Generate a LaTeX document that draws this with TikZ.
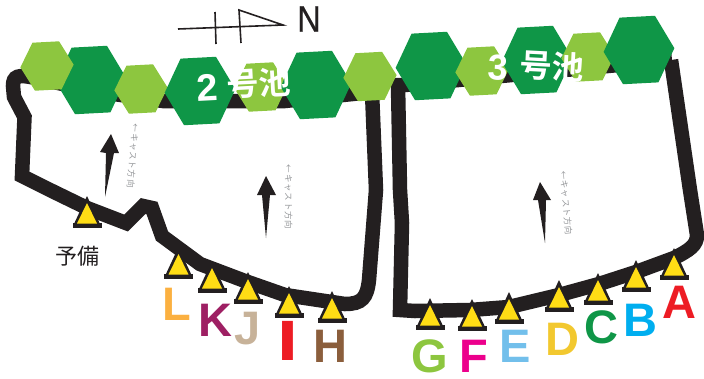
\documentclass[tikz,border=0pt]{standalone}
\usepackage{fontspec}
\setmainfont{Liberation Sans}
\newfontfamily\cjk{Noto Sans CJK JP}
\newfontfamily\cjkb{Noto Sans CJK JP Bold}
\newfontfamily\cjksp[LetterSpace=9]{Noto Sans CJK JP}
\newfontfamily\northfont[FakeBold=0.6]{Liberation Sans}
\usetikzlibrary{shapes.geometric}
\definecolor{trk}{HTML}{231F20}
\definecolor{hdark}{HTML}{0F9647}
\definecolor{hlight}{HTML}{8DC63F}
\definecolor{cone}{HTML}{FFDD15}
\definecolor{notegray}{HTML}{939598}
\tikzset{
  hexdark/.style={regular polygon,regular polygon sides=6,minimum size=77pt,inner sep=0pt,outer sep=0pt,fill=hdark,rotate=3,xscale=.92},
  hexlight/.style={regular polygon,regular polygon sides=6,minimum size=55.5pt,inner sep=0pt,outer sep=0pt,fill=hlight,rotate=3,xscale=.96},
  track/.style={draw=trk,line width=14.5pt,line join=miter,miter limit=10},
  letterlab/.style={inner sep=0pt,font=\fontsize{47}{47}\selectfont\bfseries},
  pondlab/.style={inner sep=0pt,text=white,font=\fontsize{32}{32}\selectfont\cjkb},
  pondnum/.style={inner sep=0pt,text=white,font=\fontsize{38}{38}\selectfont\bfseries},
  dirnote/.style={inner sep=0pt,text=notegray,font=\fontsize{8.5}{9}\selectfont\cjksp},
  dirarrow/.style={fill=trk,draw=none},
  northline/.style={draw=trk,line width=1.6pt},
  cone/.pic={
    \fill[trk] (-14.5,-2.5) rectangle (14.5,2.5);
    \fill[trk] (0,-29) -- (-13.5,0) -- (13.5,0) -- cycle;
    \fill[cone] (0,-22) -- (-10,-1.5) -- (10,-1.5) -- cycle;
  }
}
\begin{document}
\begin{tikzpicture}[x=1pt,y=-1pt]
\useasboundingbox (0,0) rectangle (704,378);
% tracks
\draw[track] (372,92) -- (285,101) -- (163,101) -- (100,92) -- (35,78) .. controls (18,74) and (13,76) .. (13,86) -- (14,97) -- (24.5,117) -- (22,176) -- (50,190) -- (87,208) -- (126,223) -- (143,206) -- (152,208) -- (162,236) -- (200,264) -- (245,281) -- (285,295) -- (345,304) .. controls (362,304) and (367,298) .. (369,280) -- (376,190) -- (372,92);
\draw[track] (672,60) -- (405,85) -- (398,85) -- (400,190) -- (402,223) -- (400,310) -- (415,311) -- (470,310) -- (509,307) -- (559,295) -- (599,284) -- (636,272) -- (674,258) .. controls (690,250) and (697,245) .. (697,235) -- (690,190) -- (671,60);
% hexagons
\node[hexdark] (d1) at (91,80) {};
\node[hexlight] (l1) at (47,66) {};
\node[hexlight] (l2) at (141,89) {};
\node[hexlight] (l3) at (261,87) {};
\node[hexdark] (d2) at (200,91) {};
\node[hexdark] (d3) at (316,85) {};
\node[hexlight] (l4) at (370,76.5) {};
\node[hexdark] (d4) at (431,66) {};
\node[hexlight] (l5) at (482,71) {};
\node[hexdark] (d5) at (537,60) {};
\node[hexlight] (l6) at (588,57) {};
\node[hexdark] (d6) at (639,50) {};
% pond labels
\node[pondnum,rotate=3] (n2) at (207,88) {2};
\node[pondlab,rotate=3] (t2) at (259,83) {号池};
\node[pondnum,font=\fontsize{36}{36}\selectfont\bfseries,rotate=-3] (n3) at (498,68) {3};
\node[pondlab,rotate=-3] (t3) at (552,66) {号池};
% north symbol
\draw[northline] (178,29) -- (283,25) -- (239,10) -- (241,43);
\draw[northline] (215,12) -- (216,44);
\node[inner sep=0pt,font=\fontsize{37}{37}\selectfont\northfont,text=trk,xscale=.88] (north) at (309,19) {N};
% direction arrows
\fill[dirarrow] (105,197) -- (106,153) -- (100,152) -- (111,134) -- (119,153) -- (114,153) -- cycle;
\fill[dirarrow] (266,238) -- (262,195) -- (257,195) -- (266,176) -- (276,195) -- (270,195) -- cycle;
\fill[dirarrow] (545,243) -- (538,200) -- (533,200) -- (540,182) -- (551,200) -- (546,200) -- cycle;
\node[dirnote,rotate=-94.5] (note1) at (133,156) {←キャスト方向};
\node[dirnote,rotate=-90] (note2) at (288.5,197) {←キャスト方向};
\node[dirnote,rotate=-85] (note3) at (566,203) {←キャスト方向};
% cones
\pic at (87,225) {cone};
\pic at (178.5,276) {cone};
\pic at (212,290) {cone};
\pic at (248,301) {cone};
\pic at (289,315) {cone};
\pic at (332,320) {cone};
\pic at (430,327) {cone};
\pic at (472,328) {cone};
\pic at (509,321) {cone};
\pic at (559,309) {cone};
\pic at (598,302) {cone};
\pic at (636,289) {cone};
\pic at (674,277) {cone};
% labels
\node[inner sep=0pt,font=\fontsize{22}{22}\selectfont\cjk,text=trk] (yobi) at (77,256) {予備};
\node[letterlab,text={rgb,255:red,251;green,176;blue,64}] (lL) at (177,304) {L};
\node[letterlab,text={rgb,255:red,158;green,31;blue,99}] (lK) at (215,320) {K};
\node[letterlab,text={rgb,255:red,199;green,178;blue,153}] (lJ) at (248,329) {J};
\node[letterlab,text={rgb,255:red,237;green,28;blue,36},xscale=1.6,yscale=1.21] (lI) at (288,341) {I};
\node[letterlab,text={rgb,255:red,139;green,94;blue,60}] (lH) at (330,346) {H};
\node[letterlab,text=hlight] (lG) at (430,356) {G};
\node[letterlab,text={rgb,255:red,236;green,0;blue,140}] (lF) at (474,356) {F};
\node[letterlab,text={rgb,255:red,114;green,191;blue,235}] (lE) at (515,346) {E};
\node[letterlab,text={rgb,255:red,242;green,200;blue,47}] (lD) at (562,339) {D};
\node[letterlab,text=hdark] (lC) at (601,327) {C};
\node[letterlab,text={rgb,255:red,0;green,174;blue,239}] (lB) at (640,320) {B};
\node[letterlab,text={rgb,255:red,237;green,28;blue,36}] (lA) at (679,302) {A};
\end{tikzpicture}
\end{document}
